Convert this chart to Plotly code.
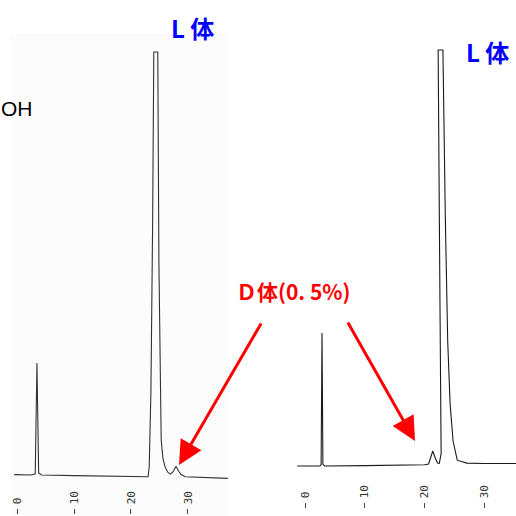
import plotly.graph_objects as go

W = H = 516

# Left chromatogram (time in min, signal in % of full scale; main peak clipped at 100)
left_t = [-0.5, 2.5, 3.2, 3.5, 3.8, 4.3, 10.0, 20.0, 23.0, 23.2, 23.5, 23.8, 24.0, 24.4, 24.7,
          24.9, 25.1, 25.3, 25.6, 26.0, 26.5, 26.9, 27.4, 27.9, 28.3, 28.8, 29.5, 33.0, 37.0]
left_s = [0.1, 0.0, 0.3, 26.5, 0.5, 0.0, -0.15, -0.4, -0.4, 2.0, 20.0, 60.0, 100.0, 100.0, 100.0,
          50.0, 20.0, 8.3, 4.0, 1.8, 0.6, 0.2, 0.8, 2.1, 1.0, 0.1, -0.4, -0.6, -0.8]

# Right chromatogram
right_t = [-1.3, 2.5, 2.7, 2.85, 3.0, 3.3, 10.0, 20.0, 20.7, 21.1, 21.4, 21.8, 22.2, 22.5,
           22.8, 22.6, 22.3, 22.7, 23.1, 23.5, 23.9, 24.3, 24.8, 25.5, 27.1, 30.0, 35.5]
right_s = [0.0, 0.0, 0.3, 32.0, 0.4, 0.0, 0.1, 0.3, 0.5, 2.0, 3.6, 2.0, 0.7, 0.65,
           3.0, 40.0, 100.0, 100.0, 100.0, 60.0, 30.0, 15.0, 6.0, 1.4, 0.7, 0.6, 0.6]

tick_vals = [0, 10, 20, 30]
tick_text = ["0", "10", "20", "30"]

peak_label = "L 体"
impurity_label = "Ｄ体(0. 5%)"
side_text = "OH"

fig = go.Figure()
fig.add_trace(go.Scatter(x=left_t, y=left_s, mode="lines", xaxis="x", yaxis="y",
                         line=dict(color="#333333", width=1.1), hoverinfo="skip", showlegend=False))
fig.add_trace(go.Scatter(x=right_t, y=right_s, mode="lines", xaxis="x2", yaxis="y2",
                         line=dict(color="#1a1a1a", width=1.1), hoverinfo="skip", showlegend=False))

def px(v):
    return v / W

def py(v):
    return 1 - v / H

tickfont = dict(family="DejaVu Sans Mono", size=11, color="#333")
common_x = dict(showgrid=False, zeroline=False, showline=False, ticks="inside", ticklen=5,
                tickcolor="#444", tickwidth=1, tickvals=tick_vals, ticktext=tick_text,
                ticklabelposition="inside", tickangle=-90, tickfont=tickfont, fixedrange=True)

fig.update_layout(
    width=W, height=H, margin=dict(l=0, r=0, t=0, b=0),
    paper_bgcolor="white", plot_bgcolor="rgba(0,0,0,0)",
    xaxis=dict(domain=[px(10), px(228)], range=[-1.228, 37.02], anchor="free", position=py(514),
               **common_x),
    yaxis=dict(domain=[0, py(33)], range=[-9.69, 104.49], visible=False, fixedrange=True),
    xaxis2=dict(domain=[px(296), px(516)], range=[-1.508, 35.34], anchor="free", position=py(508),
                **common_x),
    yaxis2=dict(domain=[0, 1], range=[-12.02, 112.02], visible=False, fixedrange=True),
    shapes=[dict(type="rect", xref="x domain", yref="y domain", x0=0, x1=1, y0=0, y1=1,
                 fillcolor="#fcfcfc", line=dict(width=0), layer="below")],
)

ann = []
lfont = dict(family="Noto Sans CJK JP", size=24, color="#0000ff", weight="bold")
ann.append(dict(text=f"<b>{peak_label}</b>", x=px(192), y=py(28), xref="paper", yref="paper",
                showarrow=False, font=lfont, xanchor="center", yanchor="middle"))
ann.append(dict(text=f"<b>{peak_label}</b>", x=px(487), y=py(52), xref="paper", yref="paper",
                showarrow=False, font=lfont, xanchor="center", yanchor="middle"))
ann.append(dict(text=side_text, x=px(-1), y=py(108), xref="paper", yref="paper", showarrow=False,
                font=dict(family="Liberation Sans", size=21, color="black"),
                xanchor="left", yanchor="middle"))
ann.append(dict(text=f"<b>{impurity_label}</b>", x=px(293), y=py(291), xref="paper", yref="paper",
                showarrow=False, font=dict(family="Noto Sans CJK JP", size=21, color="#ff0000"),
                xanchor="center", yanchor="middle"))
# arrows
for tip, tail in [((179, 465), (262, 322)), ((415, 441), (347, 321))]:
    ann.append(dict(text="", x=px(tip[0]), y=py(tip[1]), xref="paper", yref="paper",
                    showarrow=True, ax=tail[0] - tip[0], ay=tail[1] - tip[1],
                    arrowhead=2, arrowsize=1.6, arrowwidth=3, arrowcolor="#ff0000", standoff=0))
fig.update_layout(annotations=ann)

fig.write_html("out.html", config={"displayModeBar": False},
               post_script="document.body.style.margin='0';document.body.style.overflow='hidden';")
